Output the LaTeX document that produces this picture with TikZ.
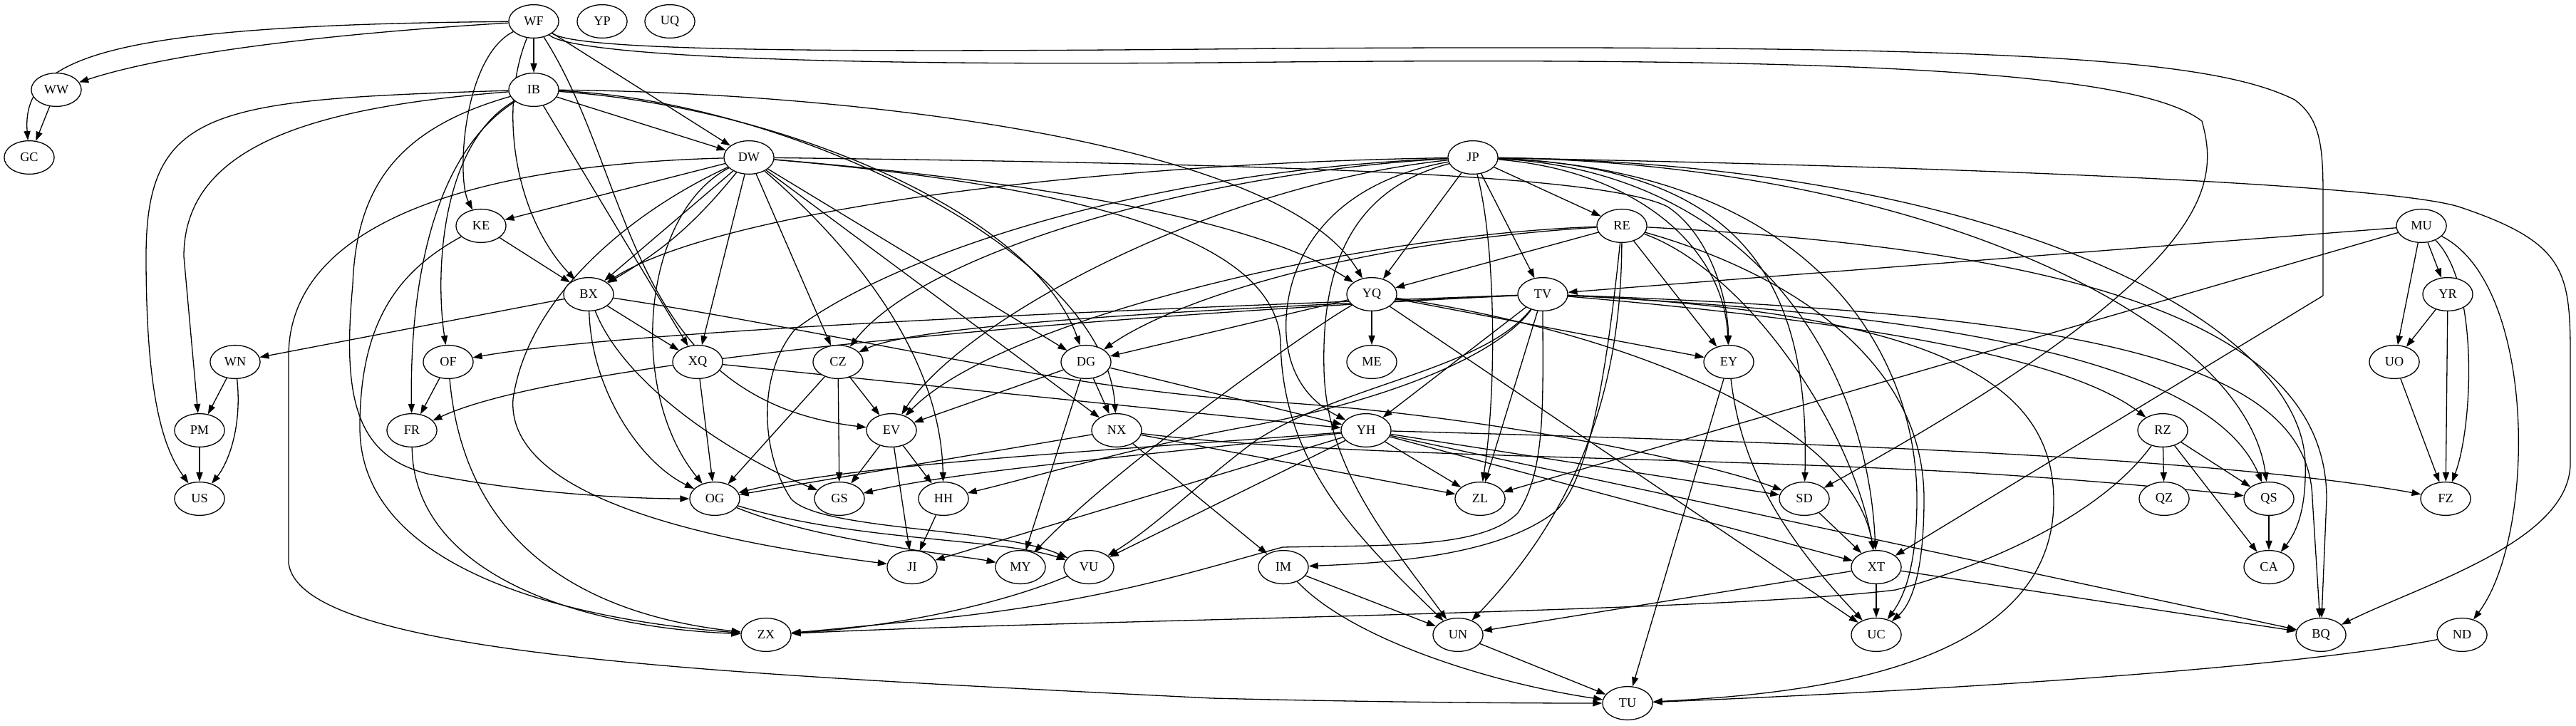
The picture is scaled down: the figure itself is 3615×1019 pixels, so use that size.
\documentclass[tikz,border=0pt]{standalone}
\usepackage{fontspec}
\setmainfont{Liberation Serif}
\usetikzlibrary{shapes, arrows.meta, positioning}
\pgfdeclarelayer{background}
\pgfsetlayers{background,main}

\begin{document}
\begin{tikzpicture}[x=0.7692pt, y=-0.7692pt]

        % Define block styles
        \tikzstyle{vertex} = [ellipse, draw, fill=white, line width=1pt, minimum width=54pt, minimum height=36pt, inner sep=0pt, font=\fontsize{14}{16}\selectfont]
        \tikzstyle{arrow} = [line width=1pt, -{Triangle[length=10pt, width=7pt]}]

        \useasboundingbox (0,0) rectangle (3615,1019);

        % Components
        \node (wf) [vertex] at (749,30) {WF};
        \node (yp) [vertex] at (845,30) {YP};
        \node (uq) [vertex] at (940,30) {UQ};
        \node (ww) [vertex] at (79,126) {WW};
        \node (ib) [vertex] at (749,126) {IB};
        \node (gc) [vertex] at (41,221) {GC};
        \node (dw) [vertex] at (1051,221) {DW};
        \node (jp) [vertex] at (2067,221) {JP};
        \node (ke) [vertex] at (675,317) {KE};
        \node (re) [vertex] at (2276,317) {RE};
        \node (mu) [vertex] at (3398,317) {MU};
        \node (bx) [vertex] at (826,413) {BX};
        \node (yq) [vertex] at (1925,413) {YQ};
        \node (tv) [vertex] at (2165,413) {TV};
        \node (yr) [vertex] at (3435,413) {YR};
        \node (wn) [vertex] at (330,508) {WN};
        \node (of) [vertex] at (629,508) {OF};
        \node (xq) [vertex] at (979,508) {XQ};
        \node (cz) [vertex] at (1176,508) {CZ};
        \node (dg) [vertex] at (1524,508) {DG};
        \node (me) [vertex] at (1925,508) {ME};
        \node (ey) [vertex] at (2426,508) {EY};
        \node (uo) [vertex] at (3360,508) {UO};
        \node (pm) [vertex] at (280,604) {PM};
        \node (fr) [vertex] at (578,604) {FR};
        \node (ev) [vertex] at (1251,604) {EV};
        \node (nx) [vertex] at (1567,604) {NX};
        \node (yh) [vertex] at (1917,604) {YH};
        \node (rz) [vertex] at (3035,604) {RZ};
        \node (us) [vertex] at (280,700) {US};
        \node (og) [vertex] at (1003,700) {OG};
        \node (gs) [vertex] at (1178,700) {GS};
        \node (hh) [vertex] at (1324,700) {HH};
        \node (zl) [vertex] at (2077,700) {ZL};
        \node (sd) [vertex] at (2532,700) {SD};
        \node (qz) [vertex] at (3037,700) {QZ};
        \node (qs) [vertex] at (3184,700) {QS};
        \node (fz) [vertex] at (3432,700) {FZ};
        \node (ji) [vertex] at (1280,796) {JI};
        \node (my) [vertex] at (1432,796) {MY};
        \node (vu) [vertex] at (1528,796) {VU};
        \node (im) [vertex] at (1801,796) {IM};
        \node (xt) [vertex] at (2633,796) {XT};
        \node (ca) [vertex] at (3184,796) {CA};
        \node (zx) [vertex] at (1075,891) {ZX};
        \node (un) [vertex] at (2046,891) {UN};
        \node (uc) [vertex] at (2633,891) {UC};
        \node (bq) [vertex] at (3257,891) {BQ};
        \node (nd) [vertex] at (3455,891) {ND};
        \node (tu) [vertex] at (2284,987) {TU};

        % Arrows
        \begin{pgfonlayer}{background}
        \draw [arrow] (wf) .. controls (500,45) and (250,70) .. (ww);
        \draw [arrow] (wf) .. controls (150,35) and (30,80) .. (gc);
        \draw [arrow] (wf) -- (ib);
        \draw [arrow] (wf) .. controls (650,80) and (640,250) .. (ke);
        \draw [arrow] (wf) .. controls (700,150) and (720,300) .. (bx);
        \draw [arrow] (wf) -- (dw);
        \draw [arrow] (wf) .. controls (890,250) and (880,560) .. (ev);
        \draw [arrow] (wf) .. controls (800,75) and (1100,95) .. (1800,87) .. controls (2600,80) and (3000,100) .. (3090,170) .. controls (3115,260) and (3110,380) .. (sd);
        \draw [arrow] (wf) .. controls (810,70) and (1100,75) .. (1800,68) .. controls (2800,62) and (3100,80) .. (3220,140) .. controls (3262,170) and (3260,220) .. (3260,300) -- (3260,415) -- (xt);
        \draw [arrow] (ww) -- (gc);

        \draw [arrow] (ib) .. controls (300,140) and (205,150) .. (205,360) .. controls (205,560) and (230,630) .. (us);
        \draw [arrow] (ib) .. controls (450,150) and (258,200) .. (258,360) -- (pm);
        \draw [arrow] (ib) .. controls (560,180) and (500,260) .. (495,400) .. controls (480,560) and (500,640) .. (600,665) .. controls (750,695) and (900,700) .. (og);
        \draw [arrow] (ib) .. controls (600,220) and (575,420) .. (fr);
        \draw [arrow] (ib) .. controls (620,200) and (610,380) .. (of);
        \draw [arrow] (ib) -- (xq);
        \draw [arrow] (ib) -- (dw);
        \draw [arrow] (ib) .. controls (1100,150) and (1450,300) .. (dg);
        \draw [arrow] (ib) .. controls (1100,140) and (1550,350) .. (nx);
        \draw [arrow] (ib) .. controls (1200,130) and (1800,200) .. (yq);

        \draw [arrow] (dw) -- (ke);
        \draw [arrow] (dw) -- (bx);
        \draw [arrow] (dw) to [bend left=10] (bx);
        \draw [arrow] (dw) .. controls (900,300) and (880,550) .. (og);
        \draw [arrow] (dw) -- (xq);
        \draw [arrow] (dw) -- (cz);
        \draw [arrow] (dw) .. controls (1200,350) and (1320,500) .. (hh);
        \draw [arrow] (dw) -- (dg);
        \draw [arrow] (dw) -- (nx);
        \draw [arrow] (dw) .. controls (1400,250) and (1750,300) .. (yq);
        \draw [arrow] (dw) .. controls (1500,260) and (1790,330) .. (1797,480) .. controls (1800,650) and (1900,750) .. (un);
        \draw [arrow] (dw) .. controls (700,230) and (405,300) .. (405,500) -- (405,790) .. controls (420,920) and (1000,945) .. (1700,980) .. controls (1900,985) and (2100,987) .. (tu);
        \draw [arrow] (dw) .. controls (880,300) and (740,420) .. (720,560) .. controls (710,700) and (1000,760) .. (ji);
        \draw [arrow] (dw) .. controls (1800,230) and (2250,245) .. (2340,290) .. controls (2400,330) and (2425,420) .. (ey);

        \draw [arrow] (jp) -- (re);
        \draw [arrow] (jp) -- (tv);
        \draw [arrow] (jp) -- (yq);
        \draw [arrow] (jp) .. controls (2300,240) and (2420,350) .. (ey);
        \draw [arrow] (jp) .. controls (2450,235) and (2540,400) .. (sd);
        \draw [arrow] (jp) .. controls (2450,240) and (2620,500) .. (xt);
        \draw [arrow] (jp) .. controls (2550,240) and (2690,500) .. (2690,700) .. controls (2690,800) and (2670,840) .. (uc);
        \draw [arrow] (jp) .. controls (2700,230) and (3150,450) .. (qs);
        \draw [arrow] (jp) .. controls (2800,230) and (3230,450) .. (3235,650) .. controls (3237,720) and (3220,750) .. (ca);
        \draw [arrow] (jp) .. controls (2800,235) and (3350,260) .. (3450,290) .. controls (3600,340) and (3607,380) .. (3607,500) -- (3607,650) .. controls (3607,760) and (3400,820) .. (bq);
        \draw [arrow] (jp) .. controls (1500,230) and (1000,300) .. (bx);
        \draw [arrow] (jp) .. controls (1700,240) and (1300,350) .. (cz);
        \draw [arrow] (jp) .. controls (1700,260) and (1350,450) .. (ev);
        \draw [arrow] (jp) .. controls (1850,260) and (1800,380) .. (1805,470) .. controls (1810,540) and (1850,570) .. (yh);
        \draw [arrow] (jp) .. controls (2100,350) and (2100,550) .. (zl);
        \draw [arrow] (jp) .. controls (1880,270) and (1855,400) .. (1858,520) .. controls (1862,660) and (1950,760) .. (un);
        \draw [arrow] (jp) .. controls (1600,240) and (1250,360) .. (1115,463) .. controls (1060,530) and (1070,640) .. (1110,700) .. controls (1150,745) and (1400,740) .. (vu);

        \draw [arrow] (ke) -- (bx);
        \draw [arrow] (ke) .. controls (560,380) and (505,450) .. (505,600) .. controls (505,800) and (800,870) .. (zx);

        \draw [arrow] (re) -- (yq);
        \draw [arrow] (re) .. controls (1900,340) and (1650,420) .. (dg);
        \draw [arrow] (re) .. controls (1900,330) and (1400,450) .. (ev);
        \draw [arrow] (re) -- (ey);
        \draw [arrow] (re) .. controls (2450,380) and (2600,600) .. (xt);
        \draw [arrow] (re) .. controls (2500,380) and (2700,500) .. (2700,700) .. controls (2700,810) and (2680,850) .. (uc);
        \draw [arrow] (re) .. controls (2275,520) and (2230,700) .. (un);
        \draw [arrow] (re) .. controls (2255,520) and (2230,680) .. (2180,720) .. controls (2100,780) and (1950,790) .. (im);
        \draw [arrow] (re) .. controls (2900,350) and (3265,450) .. (3265,700) -- (bq);

        \draw [arrow] (mu) -- (tv);
        \draw [arrow] (mu) -- (zl);
        \draw [arrow] (mu) -- (yr);
        \draw [arrow] (mu) -- (uo);
        \draw [arrow] (mu) .. controls (3480,400) and (3470,600) .. (fz);
        \draw [arrow] (mu) .. controls (3560,400) and (3560,750) .. (nd);

        \draw [arrow] (bx) -- (wn);
        \draw [arrow] (bx) -- (xq);
        \draw [arrow] (bx) .. controls (830,550) and (900,650) .. (og);
        \draw [arrow] (bx) .. controls (880,550) and (1050,650) .. (gs);
        \draw [arrow] (bx) .. controls (1200,470) and (1500,550) .. (1800,565) .. controls (2100,585) and (2400,650) .. (sd);

        \draw [arrow] (yq) -- (me);
        \draw [arrow] (yq) -- (dg);
        \draw [arrow] (yq) -- (ey);
        \draw [arrow] (yq) -- (uc);
        \draw [arrow] (yq) .. controls (1840,460) and (1560,660) .. (my);
        \draw [arrow] (yq) .. controls (2300,470) and (2600,600) .. (xt);

        \draw [arrow] (tv) .. controls (1700,430) and (900,460) .. (of);
        \draw [arrow] (tv) .. controls (1800,430) and (1300,450) .. (cz);
        \draw [arrow] (tv) .. controls (1600,440) and (800,500) .. (fr);
        \draw [arrow] (tv) -- (yh);
        \draw [arrow] (tv) -- (zl);
        \draw [arrow] (tv) .. controls (2080,520) and (1880,540) .. (1760,620) .. controls (1680,680) and (1620,740) .. (vu);
        \draw [arrow] (tv) .. controls (2100,500) and (1950,560) .. (1760,597) .. controls (1600,625) and (1450,670) .. (hh);
        \draw [arrow] (tv) .. controls (2165,560) and (2170,660) .. (2130,720) .. controls (2080,770) and (1950,765) .. (1800,768) .. controls (1680,800) and (1550,845) .. (1300,870) .. controls (1200,880) and (1150,885) .. (zx);
        \draw [arrow] (tv) .. controls (2600,450) and (2900,500) .. (rz);
        \draw [arrow] (tv) .. controls (2700,440) and (3100,500) .. (qs);
        \draw [arrow] (tv) .. controls (2900,440) and (3240,500) .. (3245,700) -- (bq);
        \draw [arrow] (tv) .. controls (2750,440) and (2880,550) .. (2882,700) .. controls (2885,950) and (2500,975) .. (tu);

        \draw [arrow] (yr) -- (uo);
        \draw [arrow] (yr) -- (fz);
        \draw [arrow] (wn) -- (pm);
        \draw [arrow] (wn) .. controls (340,600) and (320,650) .. (us);
        \draw [arrow] (of) -- (fr);
        \draw [arrow] (of) .. controls (650,750) and (800,860) .. (zx);
        \draw [arrow] (xq) -- (og);
        \draw [arrow] (xq) -- (yh);
        \draw [arrow] (cz) -- (ev);
        \draw [arrow] (cz) -- (gs);
        \draw [arrow] (cz) -- (og);
        \draw [arrow] (dg) -- (ev);
        \draw [arrow] (dg) -- (nx);
        \draw [arrow] (dg) -- (yh);
        \draw [arrow] (dg) -- (my);
        \draw [arrow] (ey) .. controls (2440,620) and (2470,720) .. (uc);
        \draw [arrow] (ey) -- (tu);
        \draw [arrow] (uo) -- (fz);
        \draw [arrow] (pm) -- (us);
        \draw [arrow] (fr) .. controls (580,800) and (800,880) .. (zx);
        \draw [arrow] (ev) -- (gs);
        \draw [arrow] (ev) -- (hh);
        \draw [arrow] (ev) -- (ji);
        \draw [arrow] (nx) -- (og);
        \draw [arrow] (nx) -- (zl);
        \draw [arrow] (nx) -- (im);
        \draw [arrow] (nx) .. controls (1850,640) and (2300,640) .. (2700,660) .. controls (2900,670) and (3100,690) .. (qs);

        \draw [arrow] (yh) .. controls (1600,630) and (1200,650) .. (og);
        \draw [arrow] (yh) .. controls (1600,640) and (1350,660) .. (gs);
        \draw [arrow] (yh) -- (zl);
        \draw [arrow] (yh) -- (sd);
        \draw [arrow] (yh) .. controls (2500,620) and (3100,640) .. (fz);
        \draw [arrow] (yh) -- (ji);
        \draw [arrow] (yh) -- (vu);
        \draw [arrow] (yh) -- (xt);
        \draw [arrow] (yh) -- (bq);

        \draw [arrow] (rz) -- (qz);
        \draw [arrow] (rz) -- (qs);
        \draw [arrow] (rz) -- (ca);
        \draw [arrow] (rz) .. controls (2950,720) and (2800,790) .. (2660,828) .. controls (2400,860) and (1500,870) .. (zx);
        \draw [arrow] (og) .. controls (1150,760) and (1350,780) .. (my);
        \draw [arrow] (og) .. controls (1200,760) and (1400,755) .. (vu);
        \draw [arrow] (hh) -- (ji);
        \draw [arrow] (sd) -- (xt);
        \draw [arrow] (qs) -- (ca);
        \draw [arrow] (vu) .. controls (1400,850) and (1250,880) .. (zx);
        \draw [arrow] (im) -- (un);
        \draw [arrow] (im) .. controls (1900,900) and (2100,960) .. (tu);
        \draw [arrow] (xt) -- (un);
        \draw [arrow] (xt) -- (uc);
        \draw [arrow] (xt) -- (bq);
        \draw [arrow] (un) -- (tu);
        \draw [arrow] (nd) .. controls (3200,940) and (2700,970) .. (tu);
        \end{pgfonlayer}

      \end{tikzpicture}
\end{document}
